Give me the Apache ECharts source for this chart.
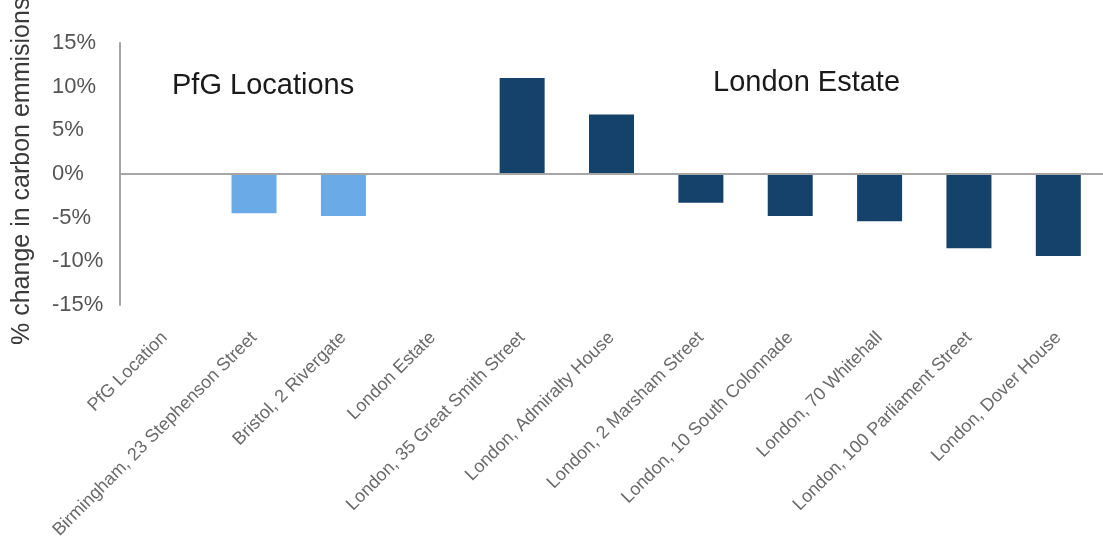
<!DOCTYPE html>
<html>
<head>
<meta charset="utf-8">
<script src="https://cdn.jsdelivr.net/npm/echarts@6/dist/echarts.min.js"></script>
<style>
  html, body { margin: 0; padding: 0; background: #ffffff; }
  #chart { width: 1103px; height: 542px; }
</style>
</head>
<body>
<div id="chart"></div>
<script>
// Buildings along the category axis
const categories = [
  'PfG Location',
  'Birmingham, 23 Stephenson Street',
  'Bristol, 2 Rivergate',
  'London Estate',
  'London, 35 Great Smith Street',
  'London, Admiralty House',
  'London, 2 Marsham Street',
  'London, 10 South Colonnade',
  'London, 70 Whitehall',
  'London, 100 Parliament Street',
  'London, Dover House'
];

// % change in carbon emissions, PfG regional locations
const pfgValues = [null, -4.5, -4.8, null, null, null, null, null, null, null, null];

// % change in carbon emissions, London estate buildings
const londonValues = [null, null, null, null, 11.0, 6.8, -3.3, -4.8, -5.4, -8.5, -9.4];

// Y axis ticks
const yTicks = [-15, -10, -5, 0, 5, 10, 15];

const yAxisTitle = '% change in carbon emmisions';
const groupLabels = ['PfG Locations', 'London Estate'];

const chart = echarts.init(document.getElementById('chart'), null, { renderer: 'canvas' });

const labelFont = 'Liberation Sans, Arial, sans-serif';

chart.setOption({
  animation: false,
  backgroundColor: '#ffffff',
  grid: { left: 120, right: -10, top: 43, bottom: 237, containLabel: false },
  xAxis: {
    type: 'category',
    data: categories,
    axisLine: { show: false, onZero: false },
    axisTick: { show: false },
    axisLabel: {
      rotate: 45,
      interval: 0,
      margin: 30,
      fontSize: 18,
      color: '#6a6a6a',
      fontFamily: labelFont
    }
  },
  yAxis: {
    type: 'value',
    min: yTicks[0],
    max: yTicks[yTicks.length - 1],
    interval: 5,
    axisLine: { show: true, lineStyle: { color: '#a6a6a6', width: 2 } },
    axisTick: { show: false },
    splitLine: { show: false },
    axisLabel: {
      formatter: '{value}%',
      align: 'left',
      margin: 68,
      fontSize: 22,
      color: '#555555',
      fontFamily: labelFont
    }
  },
  graphic: [
    {
      // rotated axis title, reading bottom to top from its anchor
      type: 'text',
      x: 10,
      y: 345,
      rotation: Math.PI / 2,
      style: {
        text: yAxisTitle,
        x: 0, y: 0,
        fontSize: 25,
        fill: '#3a3a3a',
        fontFamily: labelFont,
        align: 'left',
        verticalAlign: 'top'
      }
    },
    {
      type: 'text',
      left: 172,
      top: 71,
      style: {
        text: groupLabels[0],
        fontSize: 29,
        fill: '#1a1a1a',
        fontFamily: labelFont
      }
    },
    {
      type: 'text',
      left: 713,
      top: 68,
      style: {
        text: groupLabels[1],
        fontSize: 29,
        fill: '#1a1a1a',
        fontFamily: labelFont
      }
    }
  ],
  series: [
    {
      name: groupLabels[0],
      type: 'bar',
      stack: 'all',
      data: pfgValues,
      barWidth: 45,
      itemStyle: { color: '#6aaae6' },
      markLine: {
        silent: true,
        symbol: ['none', 'none'],
        label: { show: false },
        lineStyle: { color: '#a6a6a6', width: 2, type: 'solid' },
        data: [{ yAxis: 0 }]
      }
    },
    {
      name: groupLabels[1],
      type: 'bar',
      stack: 'all',
      data: londonValues,
      barWidth: 45,
      itemStyle: { color: '#15426b' }
    }
  ]
});
</script>
</body>
</html>
